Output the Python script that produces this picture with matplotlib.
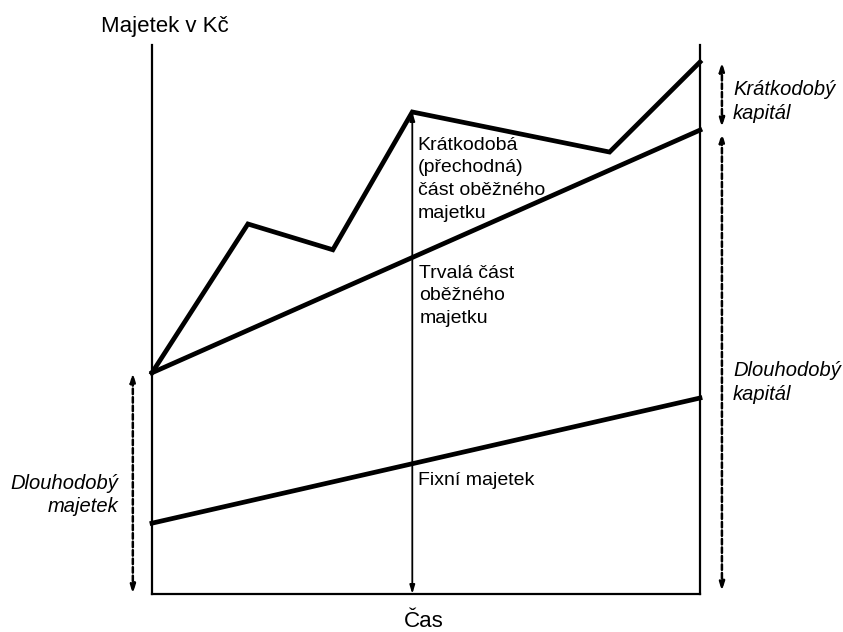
import matplotlib.pyplot as plt

plt.rcParams['font.family'] = ['Liberation Sans', 'DejaVu Sans']

# time axis (arbitrary units) and asset values
time_total = [0, 1.75, 3.3, 4.75, 8.35, 10]
total_assets = [40.3, 67.4, 62.7, 87.8, 80.5, 96.9]
time_lin = [0, 10]
permanent_current = [40.3, 84.5]
fixed_assets = [12.9, 35.7]

cut_time = 4.75
cut_value = 87.8

fig = plt.figure(figsize=(8.43, 6.32), dpi=100)
ax = fig.add_axes([152 / 843, (632 - 594) / 632, 548 / 843, 549 / 632])
ax.set_xlim(0, 10)
ax.set_ylim(0, 100)
ax.set_xticks([])
ax.set_yticks([])
ax.spines['top'].set_visible(False)
for s in ['left', 'right', 'bottom']:
    ax.spines[s].set_linewidth(1.6)
    ax.spines[s].set_color('black')

lw = 3.4
ax.plot(time_total, total_assets, color='black', lw=lw, solid_joinstyle='miter', clip_on=False)
ax.plot(time_lin, permanent_current, color='black', lw=lw, clip_on=False)
ax.plot(time_lin, fixed_assets, color='black', lw=lw, clip_on=False)

# vertical double arrow
ax.annotate('', xy=(cut_time, cut_value), xytext=(cut_time, 0),
            arrowprops=dict(arrowstyle='<|-|>,head_length=0.5,head_width=0.15',
                            lw=1.3, color='black', shrinkA=0, shrinkB=0))

dash_props = dict(arrowstyle='<|-|>,head_length=0.5,head_width=0.15', lw=1.8,
                  color='black', linestyle=(0, (2.2, 1.2)), shrinkA=0, shrinkB=0)

# left dashed arrow
ax.annotate('', xy=(-0.35, permanent_current[0]), xytext=(-0.35, 0),
            arrowprops=dash_props, annotation_clip=False)
# right dashed arrows
ax.annotate('', xy=(10.4, total_assets[-1]), xytext=(10.4, permanent_current[-1] + 0.5),
            arrowprops=dash_props, annotation_clip=False)
ax.annotate('', xy=(10.4, permanent_current[-1] - 0.5), xytext=(10.4, 0.5),
            arrowprops=dash_props, annotation_clip=False)

fs = 14
ax.text(4.85, 83.3, 'Krátkodobá\n(přechodná)\nčást oběžného\nmajetku', fontsize=fs,
        va='top', ha='left', linespacing=1.44)
ax.text(4.88, 60.0, 'Trvalá část\noběžného\nmajetku', fontsize=fs,
        va='top', ha='left', linespacing=1.42)
ax.text(4.85, 22.3, 'Fixní majetek', fontsize=fs, va='top', ha='left')

ax.text(0.24, 103.4, 'Majetek v Kč', fontsize=16, ha='center', va='center')
ax.text(4.95, -5.0, 'Čas', fontsize=16, ha='center', va='center')

ifs = 14.5
ax.text(10.6, 93.6, 'Krátkodobý\nkapitál', fontsize=ifs, style='italic',
        ha='left', va='top', linespacing=1.3)
ax.text(10.6, 42.4, 'Dlouhodobý\nkapitál', fontsize=ifs, style='italic',
        ha='left', va='top', linespacing=1.3)
ax.text(-0.62, 21.9, 'Dlouhodobý\nmajetek', fontsize=ifs, style='italic',
        ha='right', va='top', linespacing=1.3, multialignment='right')

fig.savefig('out.png', dpi=100)
